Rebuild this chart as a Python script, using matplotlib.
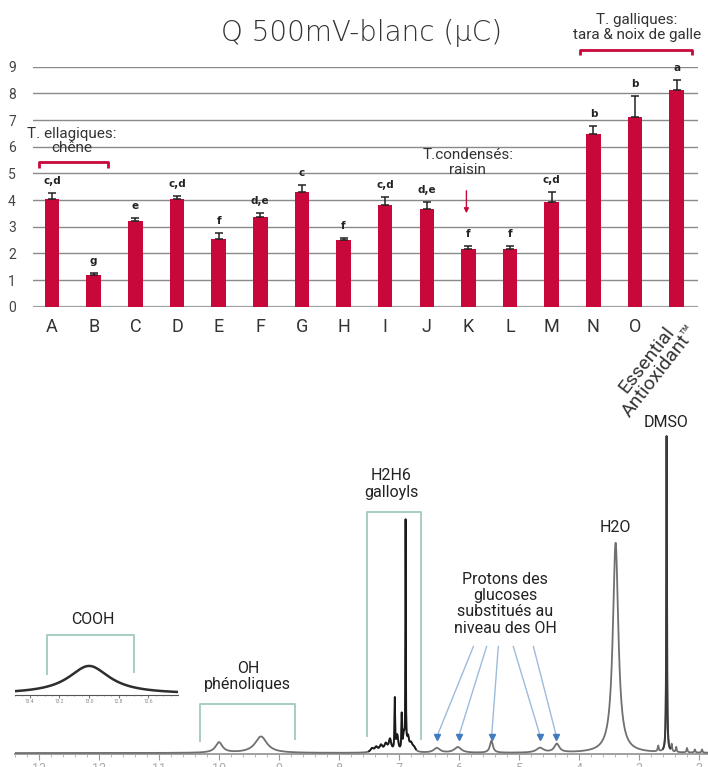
import numpy as np
import matplotlib
matplotlib.use('Agg')
import matplotlib.pyplot as plt

plt.rcParams['font.family'] = ['Liberation Sans Narrow', 'Roboto', 'DejaVu Sans']

# bar chart : Q 500mV - blanc (uC)
samples = ['A', 'B', 'C', 'D', 'E', 'F', 'G', 'H', 'I', 'J', 'K', 'L', 'M', 'N', 'O',
           'Essential\nAntioxidant\u2122']
charge = [4.04, 1.19, 3.21, 4.04, 2.54, 3.36, 4.30, 2.50, 3.81, 3.66, 2.17, 2.17,
          3.93, 6.47, 7.11, 8.12]
charge_err = [0.21, 0.08, 0.12, 0.12, 0.21, 0.14, 0.26, 0.08, 0.31, 0.28, 0.11, 0.11,
              0.37, 0.31, 0.78, 0.40]
groups = ['c,d', 'g', 'e', 'c,d', 'f', 'd,e', 'c', 'f', 'c,d', 'd,e', 'f', 'f',
          'c,d', 'b', 'b', 'a']

# 1H NMR spectrum (DMSO-d6) : peak position (ppm), rel. intensity, half width (ppm)
peak_ppm = [10.00, 9.30,
            7.45, 7.38, 7.30, 7.22, 7.15, 7.07, 7.03, 6.955, 6.92, 6.89, 6.85, 6.80, 6.75,
            6.37, 6.02, 5.46, 4.65, 4.37,
            3.39, 2.68, 2.54, 2.455, 2.38, 2.20, 2.07, 1.95]
peak_int = [3.3, 5.2,
            1.2, 1.5, 2.0, 2.4, 3.8, 16.0, 5.0, 11.0, 5.0, 71.5, 4.0, 2.4, 1.2,
            1.5, 1.8, 3.8, 1.5, 2.7,
            66.5, 1.8, 100.0, 2.2, 1.6, 1.4, 1.0, 1.0]
peak_hw = [0.07, 0.12,
           0.03, 0.03, 0.03, 0.03, 0.025, 0.006, 0.02, 0.006, 0.015, 0.004, 0.02, 0.03, 0.03,
           0.06, 0.07, 0.03, 0.07, 0.05,
           0.055, 0.01, 0.006, 0.008, 0.008, 0.01, 0.01, 0.01]

# COOH region (inset)
cooh_ppm = [13.0]
cooh_int = [9.0]
cooh_hw = [0.17]

red = '#c8083a'
teal = '#a9cdc3'
blue_line = '#9dbbdc'
blue_mark = '#3f7bbf'

W, H = 708, 767
fig = plt.figure(figsize=(W / 100, H / 100), dpi=100)

# ---------------- bar chart ----------------
ax = fig.add_axes([32.5 / W, 1 - 306.7 / H, 665 / W, 240 / H])
x = np.arange(len(samples))
ax.bar(x, charge, width=0.35, color=red, zorder=3)
ax.errorbar(x, charge, yerr=[np.zeros(len(charge)), charge_err], fmt='none',
            ecolor='#222', elinewidth=1.1, capsize=3, capthick=1.1, zorder=4)
for xi, v, e, g in zip(x, charge, charge_err, groups):
    ax.annotate(g, (xi, v + e), xytext=(0, 5), textcoords='offset points',
                ha='center', va='bottom', fontsize=7.5, fontweight='bold',
                family='DejaVu Sans', color='#222')

ax.set_xlim(-0.47, 15.5)
ax.set_ylim(0, 9)
ax.set_yticks(range(10))
ax.yaxis.grid(True, color='#8a8a8a', lw=1.0, zorder=0)
for s in ax.spines.values():
    s.set_visible(False)
ax.axhline(0, color='#a0a0a0', lw=1.6, zorder=2)
ax.tick_params(axis='y', length=0, pad=12, labelsize=10, labelcolor='#444')
ax.set_xticks(x[:-1])
ax.set_xticklabels(samples[:-1])
ax.tick_params(axis='x', length=0, pad=8, labelsize=13, labelcolor='#333')
ax.text(14.93, -0.15, samples[-1], rotation=52, rotation_mode='anchor',
        ha='right', va='top', multialignment='center', fontsize=14, color='#333',
        linespacing=0.95)

fig.text(362 / W, 1 - 33 / H, 'Q 500mV-blanc (\u00b5C)', ha='center', va='center',
         fontsize=20, family='DejaVu Sans', fontweight='light', color='#333')

# group annotations
ax.text(0.48, 6.22, 'T. ellagiques:\nchêne', ha='center', va='center', fontsize=11,
        color='#333', linespacing=1.05)
ax.plot([-0.32, -0.32, 1.34, 1.34], [5.19, 5.41, 5.41, 5.19], color=red, lw=2,
        clip_on=False, solid_capstyle='butt')
ax.text(9.98, 5.41, 'T.condensés:\nraisin', ha='center', va='center', fontsize=11,
        color='#333', linespacing=1.05)
ax.annotate('', xy=(9.95, 3.4), xytext=(9.95, 4.45),
            arrowprops=dict(arrowstyle='-|>', color=red, lw=1, mutation_scale=7))
ax.text(14.04, 10.48, 'T. galliques:\ntara & noix de galle', ha='center', va='center',
        fontsize=11, color='#333', linespacing=1.05)
ax.plot([12.67, 12.67, 15.37, 15.37], [9.44, 9.63, 9.63, 9.44], color=red, lw=2,
        clip_on=False, solid_capstyle='butt')

# ---------------- NMR spectrum ----------------
nx = fig.add_axes([15 / W, 1 - 754 / H, 693 / W, 354 / H])
ppm = np.linspace(13.4, 1.85, 40000)
spec = np.zeros_like(ppm)
for p, h, w in zip(peak_ppm, peak_int, peak_hw):
    spec += h / (1 + ((ppm - p) / w) ** 2)
nx.plot(ppm, spec, color='#707070', lw=1.3, zorder=3)
gal = (ppm < 7.5) & (ppm > 6.72)
nx.plot(ppm[gal], spec[gal], color='#1a1a1a', lw=1.3, zorder=4)
dm = (ppm < 2.6) & (ppm > 2.48)
nx.plot(ppm[dm], spec[dm], color='#3a3a3a', lw=1.4, zorder=4)

nx.set_xlim(13.4, 1.85)
nx.set_ylim(-0.3, 111.7)
for k in ['top', 'left', 'right']:
    nx.spines[k].set_visible(False)
nx.spines['bottom'].set_color('#a0a0a0')
nx.spines['bottom'].set_linewidth(1.4)
nx.set_yticks([])
nx.set_xticks(np.arange(13, 1.9, -1))
nx.set_xticks(np.arange(13.4, 1.85, -0.2), minor=True)
nx.tick_params(axis='x', which='major', length=4, color='#999', labelsize=9,
               labelcolor='#aaa', pad=2)
nx.tick_params(axis='x', which='minor', length=2.5, color='#aaa')
nx.patch.set_alpha(0)


def bracket(a, x0, x1, ytop, yb0, yb1):
    a.plot([x0, x0, x1, x1], [yb0, ytop, ytop, yb1], color=teal, lw=1.4,
           clip_on=False, zorder=2)


bracket(nx, 12.87, 11.42, 37.3, 25.0, 25.6)
bracket(nx, 10.32, 8.73, 15.5, 3.8, 4.4)
bracket(nx, 7.53, 6.63, 76.3, 5.4, 4.5)

lab = dict(ha='center', va='center', fontsize=11.5, color='#222', linespacing=1.1)
nx.text(12.1, 42.1, 'COOH', **lab)
nx.text(9.52, 24.1, 'OH\nphénoliques', **lab)
nx.text(7.13, 85.1, 'H2H6\ngalloyls', **lab)
nx.text(5.23, 47.2, 'Protons des\nglucoses\nsubstitués au\nniveau des OH', **lab)
nx.text(3.4, 71.5, 'H2O', **lab)
nx.text(2.55, 104.7, 'DMSO', **lab)

starts = [5.76, 5.54, 5.345, 5.095, 4.76]
ends = [6.36, 6.00, 5.455, 4.65, 4.38]
for s0, e0 in zip(starts, ends):
    nx.plot([s0, e0], [33.7, 5.6], color=blue_line, lw=1.0, zorder=2)
nx.plot(ends, [5.2] * len(ends), 'v', color=blue_mark, ms=4, zorder=5)

# COOH inset
ix = fig.add_axes([15 / W, 1 - 695 / H, 163 / W, 40 / H])
ippm = np.linspace(13.5, 12.4, 2000)
ispec = np.zeros_like(ippm)
for p, h, w in zip(cooh_ppm, cooh_int, cooh_hw):
    ispec += h / (1 + ((ippm - p) / w) ** 2)
ix.plot(ippm, ispec, color='#2e2e2e', lw=1.8)
ix.set_xlim(13.5, 12.4)
ix.set_ylim(-0.3, 12.5)
for k in ['top', 'left', 'right']:
    ix.spines[k].set_visible(False)
ix.spines['bottom'].set_color('#555')
ix.set_yticks([])
ix.set_xticks(np.arange(13.4, 12.45, -0.2))
ix.set_xticks(np.arange(13.5, 12.4, -0.05), minor=True)
ix.tick_params(axis='x', which='major', length=2, labelsize=3.5, labelcolor='#888',
               color='#777', pad=1)
ix.tick_params(axis='x', which='minor', length=1, color='#999')
ix.patch.set_alpha(0)

fig.savefig('out.png', dpi=100)
